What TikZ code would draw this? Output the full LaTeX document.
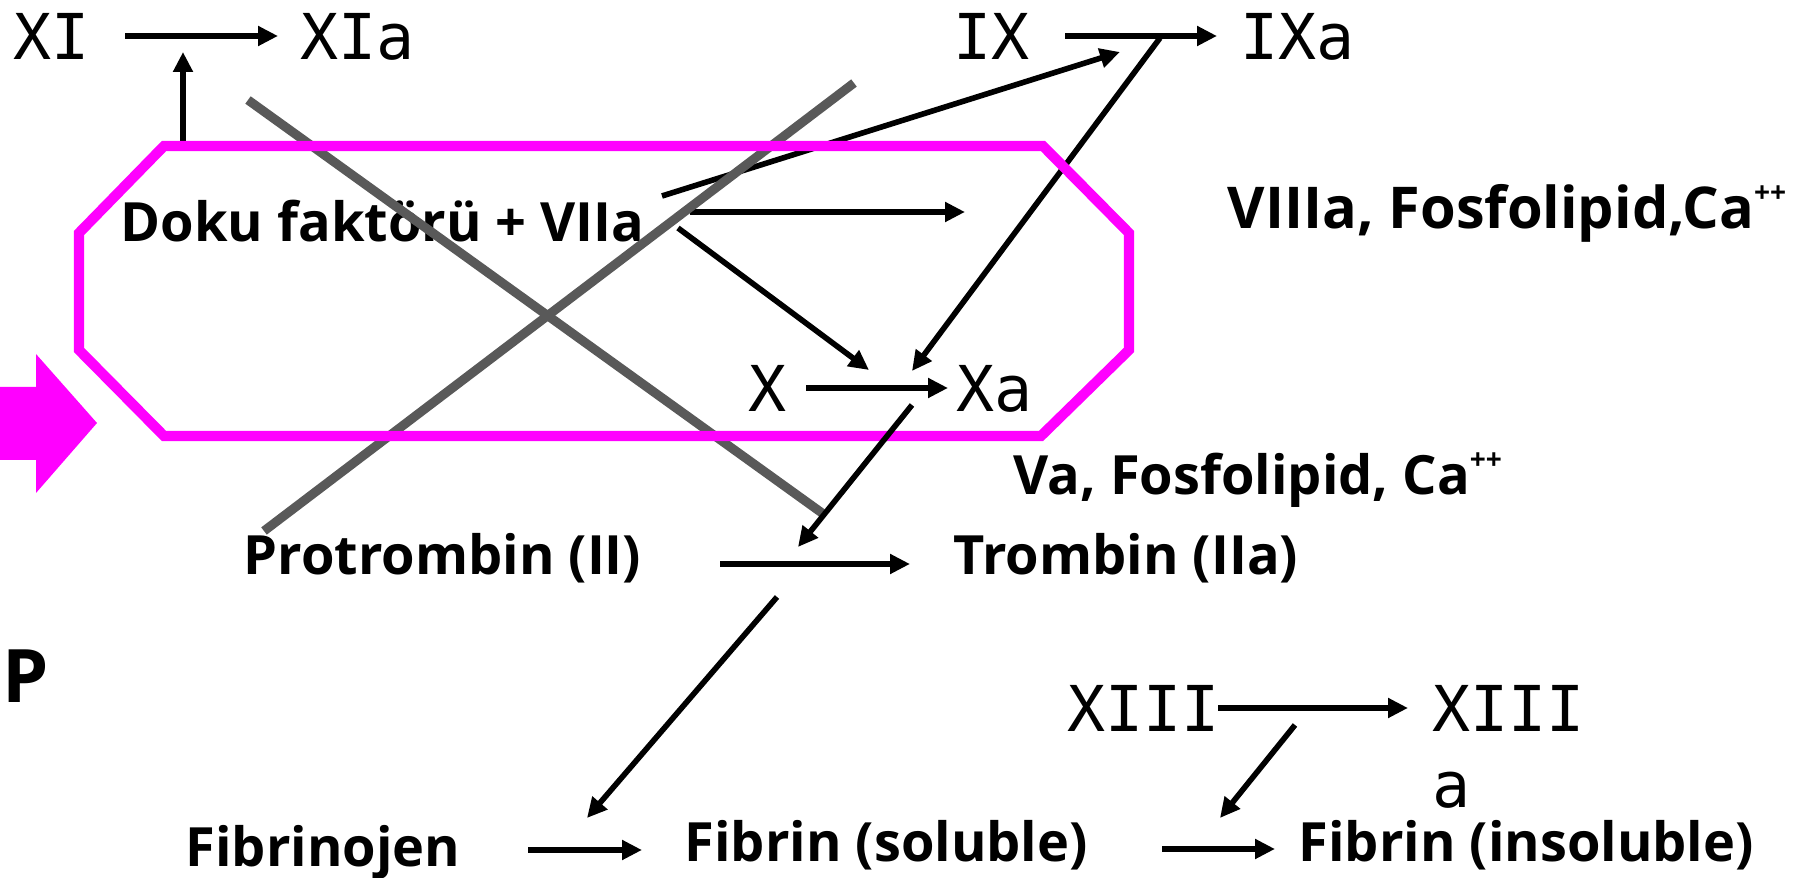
\documentclass[tikz,border=0pt]{standalone}
\usepackage{fontspec}
\setmainfont{Open Sans}
\newfontfamily\numfont{DejaVu Sans Mono}
\usetikzlibrary{arrows.meta}

\definecolor{boxmag}{RGB}{255,0,255}
\definecolor{crossgray}{RGB}{89,89,89}

\newcommand{\ionplus}{\raisebox{0.85ex}{\fontsize{8}{8}\selectfont ++}}

\begin{document}
\begin{tikzpicture}[
  y=-1cm,
  >={Triangle[length=0.2cm, width=0.19cm]},
  roman/.style={
    inner sep=0, anchor=base west,
    font=\numfont\fontsize{18}{21.6}\selectfont
  },
  agent/.style={
    inner sep=0, anchor=base west,
    font=\bfseries\fontsize{15.4}{18}\selectfont
  },
  reac/.style={->, line width=1.6pt},
  cross/.style={draw=crossgray, line width=2.6pt},
]

  \useasboundingbox (0,0) rectangle (17.97,8.78);
  \clip (0,0) rectangle (17.97,8.78);

  % -------------------------------------------------------
  %  Factors
  % -------------------------------------------------------
  \node[roman] (XI)   at (0.13, 0.60) {XI};
  \node[roman] (XIa)  at (3.00, 0.60) {XIa};
  \node[roman] (IX)   at (9.53, 0.60) {IX};
  \node[roman] (IXa)  at (12.40,0.60) {IXa};
  \node[roman] (X)    at (7.48, 4.12) {X};
  \node[roman] (Xa)   at (9.56, 4.12) {Xa};
  \node[roman] (XIII) at (10.67,7.32) {XIII};
  \node[roman, anchor=north west, align=left] (XIIIa) at (14.32,6.85) {XIII\\a};

  % -------------------------------------------------------
  %  Cofactors and products
  % -------------------------------------------------------
  \node[agent] (doku) at (1.20, 2.42) {Doku faktörü + VIIa};
  \node[agent, font=\bfseries\fontsize{16.4}{19}\selectfont]
    (viii) at (12.27,2.29) {VIIIa, Fosfolipid,Ca\ionplus};
  \node[agent] (va)   at (10.13,4.95) {Va, Fosfolipid, Ca\ionplus};
  \node[agent] (pro)  at (2.43, 5.75) {Protrombin (II)};
  \node[agent] (trom) at (9.53, 5.75) {Trombin (IIa)};
  \node[agent] (fgen) at (1.85, 8.67) {Fibrinojen};
  \node[agent] (fsol) at (6.84, 8.62) {Fibrin (soluble)};
  \node[agent] (fins) at (12.98,8.62) {Fibrin (insoluble)};
  \node[agent, font=\bfseries\fontsize{21}{24}\selectfont]
    (P) at (0.02,7.03) {P};

  % -------------------------------------------------------
  %  Arrow ends
  % -------------------------------------------------------
  \coordinate (xi-a)   at (1.25, 0.36);
  \coordinate (xi-b)   at (2.78, 0.36);
  \coordinate (xi-up)  at (1.83, 1.43);
  \coordinate (xi-in)  at (1.83, 0.52);
  \coordinate (ix-a)   at (10.65,0.36);
  \coordinate (ix-b)   at (12.17,0.36);
  \coordinate (ix-in)  at (11.20,0.52);
  \coordinate (ix-out) at (11.60,0.38);
  \coordinate (vii-1)  at (6.62, 1.96);
  \coordinate (vii-2)  at (6.90, 2.12);
  \coordinate (vii-2e) at (9.65, 2.12);
  \coordinate (vii-3)  at (6.78, 2.28);
  \coordinate (x-in1)  at (8.69, 3.70);
  \coordinate (x-in2)  at (9.12, 3.71);
  \coordinate (x-a)    at (8.06, 3.88);
  \coordinate (x-b)    at (9.48, 3.88);
  \coordinate (xa-out) at (9.12, 4.05);
  \coordinate (pro-in) at (7.98, 5.47);
  \coordinate (pro-a)  at (7.20, 5.64);
  \coordinate (pro-b)  at (9.10, 5.64);
  \coordinate (tr-out) at (7.77, 5.97);
  \coordinate (fg-in)  at (5.87, 8.18);
  \coordinate (fg-a)   at (5.28, 8.50);
  \coordinate (fg-b)   at (6.42, 8.50);
  \coordinate (xiii-a) at (12.18,7.08);
  \coordinate (xiii-b) at (14.08,7.08);
  \coordinate (xiii-o) at (12.95,7.25);
  \coordinate (fs-in)  at (12.20,8.18);
  \coordinate (fs-a)   at (11.62,8.49);
  \coordinate (fs-b)   at (12.75,8.49);

  % -------------------------------------------------------
  %  Reactions
  % -------------------------------------------------------
  \draw[reac] (xi-a) -- (xi-b);
  \draw[reac] (xi-up) -- (xi-in);
  \draw[reac] (ix-a) -- (ix-b);
  \draw[reac] (vii-1) -- (ix-in);
  \draw[reac] (vii-2) -- (vii-2e);
  \draw[reac] (vii-3) -- (x-in1);
  \draw[reac] (ix-out) -- (x-in2);
  \draw[reac] (x-a) -- (x-b);
  \draw[reac] (pro-a) -- (pro-b);
  \draw[reac] (tr-out) -- (fg-in);
  \draw[reac] (fg-a) -- (fg-b);
  \draw[reac] (xiii-a) -- (xiii-b);
  \draw[reac] (xiii-o) -- (fs-in);
  \draw[reac] (fs-a) -- (fs-b);

  % -------------------------------------------------------
  %  Crossed out part
  % -------------------------------------------------------
  \draw[cross] (2.48,1.00) -- (8.22,5.13);
  \draw[cross] (8.54,0.83) -- (2.64,5.31);

  % -------------------------------------------------------
  %  Extrinsic box and arrow
  % -------------------------------------------------------
  \draw[boxmag, line width=2.9pt]
    (1.64,1.46) -- (10.43,1.46) -- (11.29,2.33) -- (11.29,3.50)
    -- (10.41,4.36) -- (1.64,4.36) -- (0.79,3.50) -- (0.79,2.33) -- cycle;
  \fill[boxmag] (-0.10,3.87) -- (0.36,3.87) -- (0.36,3.54) -- (0.97,4.23)
    -- (0.36,4.93) -- (0.36,4.60) -- (-0.10,4.60) -- cycle;

  \draw[reac] (xa-out) -- (pro-in);

\end{tikzpicture}
\end{document}
